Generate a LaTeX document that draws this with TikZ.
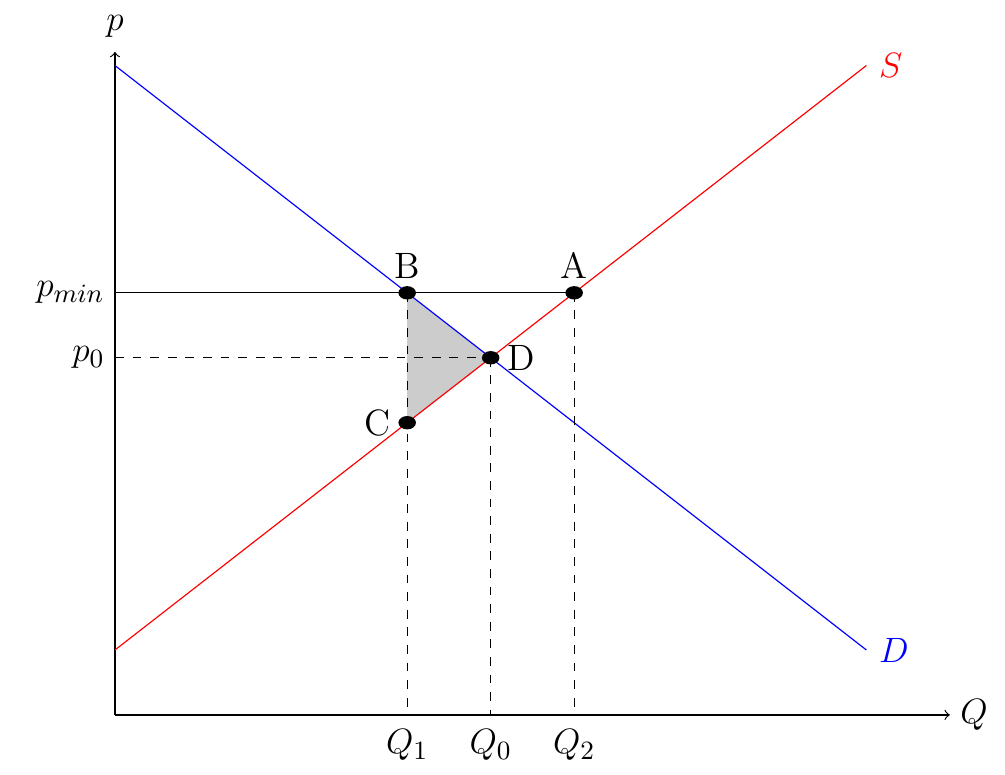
\documentclass[tikz,border=0pt]{standalone}
\usepackage{amsmath}
\usetikzlibrary{positioning,shapes.geometric}

\begin{document}
\begin{tikzpicture}[
  x=1cm, y=0.7778cm,
  every node/.style={font=\fontsize{12.5}{15}\selectfont},
  dot/.style={ellipse, fill=black, inner sep=0pt,
              minimum width=0.21cm, minimum height=0.16cm},
  ptlabel/.style={inner sep=2.3pt},
  guide/.style={dashed}
]
  \useasboundingbox (-1.377cm,-0.719cm) rectangle (10.66cm,8.563cm);

  % Points of the market
  \coordinate (O)    at (0,0);
  \coordinate (xend) at (10,0);
  \coordinate (yend) at (0,10.21);
  \coordinate (pmin) at (0,6.5);
  \coordinate (p0)   at (0,5.5);
  \coordinate (q1)   at (3.5,0);
  \coordinate (q0)   at (4.5,0);
  \coordinate (q2)   at (5.5,0);
  \coordinate (Bp)   at (3.5,6.5);
  \coordinate (Ap)   at (5.5,6.5);
  \coordinate (Cp)   at (3.5,4.5);
  \coordinate (Dp)   at (4.5,5.5);

  % Deadweight loss
  \fill[black!20] (Bp) -- (Dp) -- (Cp) -- cycle;

  % Axes
  \draw[->] (O) -- (xend) node[right] (Qlab) {$Q$};
  \draw[->] (O) -- (yend) node[above=1.3pt] (plab) {$p$};

  % Supply and demand
  \draw[red]  (0,1)  -- (9,10) node[right=0.8pt] (Slab) {$S$};
  \draw[blue] (0,10) -- (9,1)  node[right=0.8pt] (Dlab) {$D$};

  % Price floor and guides
  \draw (pmin) -- (Ap);
  \draw[guide] (p0) -- (Dp);
  \draw[guide] (Bp) -- (q1);
  \draw[guide] (Dp) -- (q0);
  \draw[guide] (Ap) -- (q2);

  \node[dot] (B) at (Bp) {};
  \node[dot] (A) at (Ap) {};
  \node[dot] (C) at (Cp) {};
  \node[dot] (D) at (Dp) {};

  \node[ptlabel, above=0pt of B] (labB) {B};
  \node[ptlabel, above=0pt of A] (labA) {A};
  \node[ptlabel, left=0pt of C]  (labC) {C};
  \node[ptlabel, right=0pt of D] (labD) {D};

  \node[left=0pt of pmin] (labpmin) {$p_{min}$};
  \node[left=0pt of p0]   (labp0)   {$p_0$};
  \node[below=1.5pt of q1] (labq1) {$Q_1$};
  \node[below=1.5pt of q0] (labq0) {$Q_0$};
  \node[below=1.5pt of q2] (labq2) {$Q_2$};
\end{tikzpicture}
\end{document}
